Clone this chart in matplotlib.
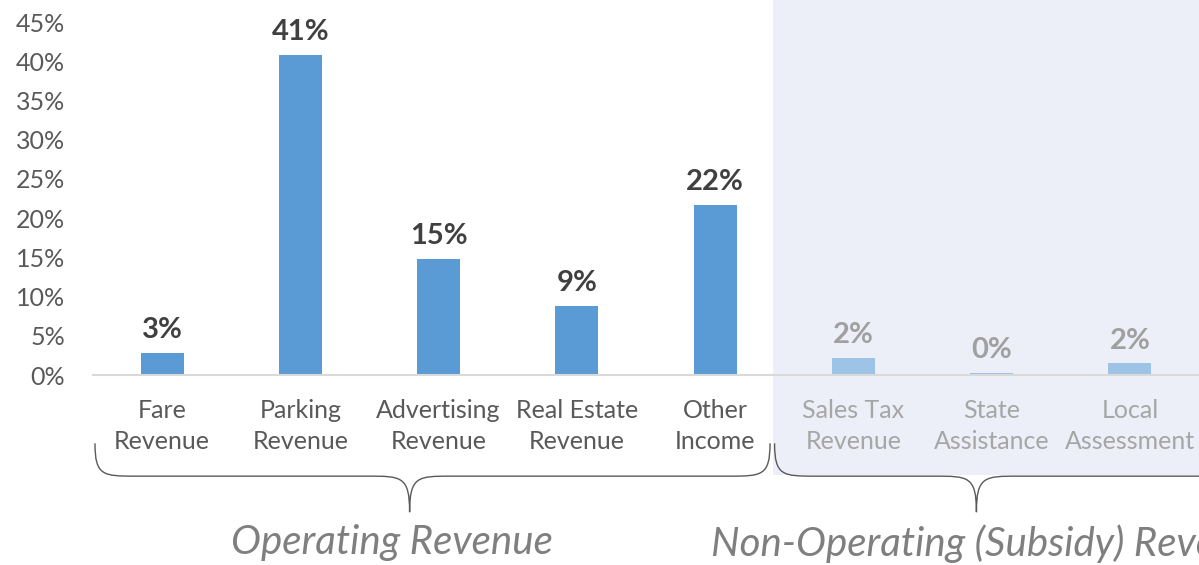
import numpy as np
import matplotlib
matplotlib.use('Agg')
import matplotlib.pyplot as plt
from matplotlib.path import Path
from matplotlib.patches import PathPatch, Rectangle
import matplotlib.transforms as mtransforms

plt.rcParams['font.family'] = ['Lato', 'DejaVu Sans']

# ---- data ----
categories = ['Fare\nRevenue', 'Parking\nRevenue', 'Advertising\nRevenue', 'Real Estate\nRevenue',
              'Other\nIncome', 'Sales Tax\nRevenue', 'State\nAssistance', 'Local\nAssessment']
shares = [2.8, 40.8, 14.8, 8.8, 21.7, 2.2, 0.25, 1.5]
share_labels = ['3%', '41%', '15%', '9%', '22%', '2%', '0%', '2%']
operating = [True, True, True, True, True, False, False, False]
yticks = [0, 5, 10, 15, 20, 25, 30, 35, 40, 45]
group_names = ['Operating Revenue', 'Non-Operating (Subsidy) Revenue']

fig = plt.figure(figsize=(11.99, 5.65), dpi=100)
ax = fig.add_axes([0.0776, 0.336, 0.9224, 0.625])
ax.patch.set_visible(False)

x = np.arange(len(categories))
bar_colors = ['#5B9BD5' if op else '#9DC3E6' for op in operating]
bars = ax.bar(x, shares, width=0.31, color=bar_colors, zorder=2)

ax.set_xlim(-0.5, 7.5)
ax.set_ylim(0, 45)
ax.set_yticks(yticks)
ax.set_yticklabels([f'{t}%' for t in yticks], fontsize=18, color='#595959')
ax.set_xticks(x)
ax.set_xticklabels(categories, fontsize=18, linespacing=1.45)
for lbl, op in zip(ax.get_xticklabels(), operating):
    lbl.set_color('#595959' if op else '#A6A6A6')
ax.tick_params(axis='both', length=0)
ax.tick_params(axis='x', pad=17)
ax.tick_params(axis='y', pad=20)
for s in ['top', 'right', 'left']:
    ax.spines[s].set_visible(False)
ax.spines['bottom'].set_color('#D9D9D9')
ax.spines['bottom'].set_linewidth(1.5)

# value labels
for b, txt, op in zip(bars, share_labels, operating):
    ax.annotate(txt, (b.get_x() + b.get_width() / 2, b.get_height()),
                xytext=(0, 7), textcoords='offset points', ha='center', va='bottom',
                fontsize=21, fontweight='bold', color='#404040' if op else '#A0A0A0')

# shaded non-operating area
trans = mtransforms.blended_transform_factory(ax.transData, ax.transAxes)
ax.add_patch(Rectangle((4.42, -0.283), 3.2, 1.35, transform=trans, facecolor='#ECEFF8',
                       edgecolor='none', clip_on=False, zorder=0))


def brace(x0, x1, xt, y_top=-0.193, y_mid=-0.286, y_tip=-0.388):
    r = 0.3
    verts = [(x0, y_top),
             (x0, y_mid), (x0 + r * 0.2, y_mid), (x0 + r, y_mid),
             (xt - r, y_mid),
             (xt - r * 0.2, y_mid), (xt, y_mid), (xt, y_tip),
             (xt, y_mid), (xt + r * 0.2, y_mid), (xt + r, y_mid),
             (x1 - r, y_mid),
             (x1 - r * 0.2, y_mid), (x1, y_mid), (x1, y_top)]
    codes = [Path.MOVETO, Path.CURVE4, Path.CURVE4, Path.CURVE4, Path.LINETO,
             Path.CURVE4, Path.CURVE4, Path.CURVE4, Path.CURVE4, Path.CURVE4, Path.CURVE4,
             Path.LINETO, Path.CURVE4, Path.CURVE4, Path.CURVE4]
    ax.add_patch(PathPatch(Path(verts, codes), transform=trans, facecolor='none',
                           edgecolor='#595959', lw=1.0, clip_on=False, zorder=3))


brace(-0.486, 4.397, 1.79)
brace(4.43, 7.75, 5.89)

ax.text(1.66, -0.473, group_names[0], transform=trans, ha='center', va='center',
        fontsize=29, style='italic', color='#7F7F7F')
ax.text(6.02, -0.478, group_names[1], transform=trans, ha='center', va='center',
        fontsize=29, style='italic', color='#7F7F7F')

fig.savefig('out.png', dpi=100)
